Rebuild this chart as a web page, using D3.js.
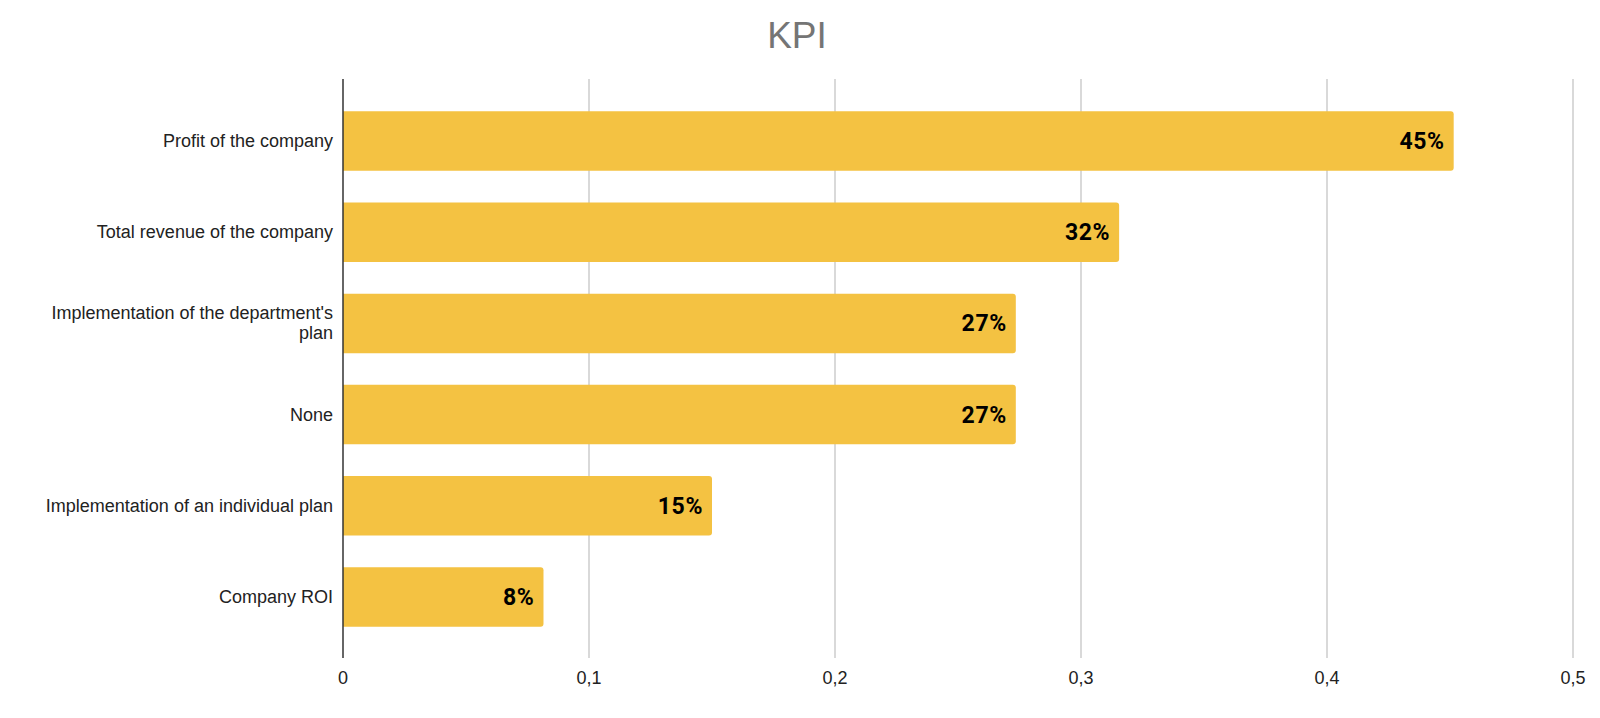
<!DOCTYPE html>
<html><head><meta charset="utf-8">
<script src="https://cdn.jsdelivr.net/npm/d3@7"></script>
<style>body{margin:0;background:#fff;}svg{display:block;}</style>
</head><body>
<svg id="c" width="1600" height="718"></svg>
<script>
const title = "KPI";
const categories = [
  ["Profit of the company"],
  ["Total revenue of the company"],
  ["Implementation of the department's", "plan"],
  ["None"],
  ["Implementation of an individual plan"],
  ["Company ROI"]
];
const values = [0.4515, 0.3155, 0.2735, 0.2735, 0.1500, 0.0815];
const tickValues = [0, 0.1, 0.2, 0.3, 0.4, 0.5];
const tickLabels = ["0", "0,1", "0,2", "0,3", "0,4", "0,5"];

const svg = d3.select("#c");
const L = 343, R = 1573, T = 79, B = 658;
const x = d3.scaleLinear().domain([0, 0.5]).range([L, R]);
const y = d3.scaleBand().domain(d3.range(categories.length)).range([T, B]).paddingInner(0.348).paddingOuter(0.349);

svg.append("text").attr("x", 797).attr("y", 48).attr("text-anchor", "middle")
  .attr("font-family", "Liberation Sans, Arial, sans-serif").attr("font-size", 37)
  .attr("fill", "#757575").text(title);

// gridlines
svg.append("g").selectAll("line").data(tickValues.slice(1)).join("line")
  .attr("x1", d => x(d)).attr("x2", d => x(d)).attr("y1", T).attr("y2", B)
  .attr("stroke", "#cccccc").attr("stroke-width", 1.5);

// bars with rounded right corners
const r = 3;
svg.append("g").selectAll("path").data(values).join("path")
  .attr("fill", "#f4c242")
  .attr("d", (d, i) => {
    const x0 = x(0), x1 = x(d), y0 = y(i) + 0.5, h = y.bandwidth();
    const p = d3.path();
    p.moveTo(x0, y0); p.lineTo(x1 - r, y0); p.quadraticCurveTo(x1, y0, x1, y0 + r);
    p.lineTo(x1, y0 + h - r); p.quadraticCurveTo(x1, y0 + h, x1 - r, y0 + h);
    p.lineTo(x0, y0 + h); p.closePath();
    return p.toString();
  });

// value labels
svg.append("g").selectAll("text").data(values).join("text")
  .attr("x", d => x(d) - 9).attr("y", (d, i) => y(i) + y.bandwidth() / 2 + 8.5)
  .attr("text-anchor", "end").attr("font-family", "Roboto, sans-serif")
  .attr("font-weight", "bold").attr("font-size", 23).attr("letter-spacing", 0.6)
  .attr("fill", "#000")
  .text(d => Math.round(d * 100) + "%");

// y axis line
svg.append("line").attr("x1", L).attr("x2", L).attr("y1", T).attr("y2", B)
  .attr("stroke", "#333").attr("stroke-width", 1.5);

// category labels
const cl = svg.append("g").selectAll("text").data(categories).join("text")
  .attr("text-anchor", "end").attr("font-family", "Liberation Sans, Arial, sans-serif")
  .attr("font-size", 18).attr("fill", "#222");
cl.each(function (lines, i) {
  const cy = y(i) + y.bandwidth() / 2;
  const lh = 20;
  const start = cy - (lines.length - 1) * lh / 2 + 6.5;
  d3.select(this).selectAll("tspan").data(lines).join("tspan")
    .attr("x", L - 10).attr("y", (d, j) => start + j * lh).text(d => d);
});

// x tick labels
svg.append("g").selectAll("text").data(tickValues).join("text")
  .attr("x", d => x(d)).attr("y", 684).attr("text-anchor", "middle")
  .attr("font-family", "Liberation Sans, Arial, sans-serif").attr("font-size", 18)
  .attr("fill", "#222").text((d, i) => tickLabels[i]);
</script>
</body></html>
